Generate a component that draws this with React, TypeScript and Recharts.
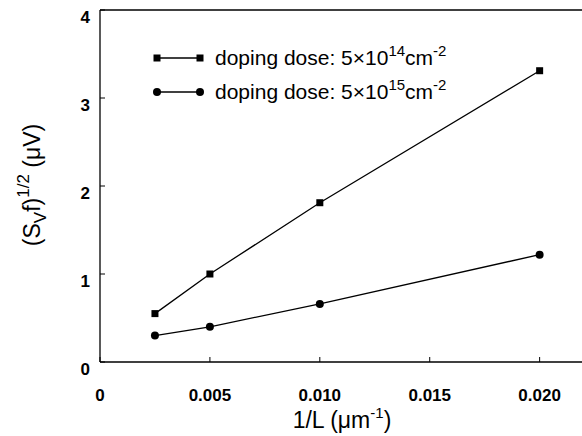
import React from 'react';
import { LineChart, Line, XAxis, YAxis, ReferenceLine, Legend, Label } from 'recharts';

const invLength = [0.0025, 0.005, 0.01, 0.02];
const dose14 = [0.55, 1.0, 1.81, 3.31];
const dose15 = [0.3, 0.4, 0.66, 1.22];
const xTicks = [0, 0.005, 0.01, 0.015, 0.02];
const yTicks = [0, 1, 2, 3, 4];

const data = invLength.map((x, i) => ({ x, a: dose14[i], b: dose15[i] }));

const FONT = '"Liberation Sans", Arial, Helvetica, sans-serif';

const SquareDot = (props: any) => {
  const { cx, cy, index } = props;
  if (cx == null || cy == null) return <g key={`s${index}`} />;
  return <rect key={`s${index}`} x={cx - 3.5} y={cy - 3.5} width={7} height={7} fill="#000" />;
};
const CircleDot = (props: any) => {
  const { cx, cy, index } = props;
  if (cx == null || cy == null) return <g key={`c${index}`} />;
  return <circle key={`c${index}`} cx={cx} cy={cy} r={4} fill="#000" />;
};

const sup: React.CSSProperties = { fontSize: 15, position: 'relative', top: -9 };

const LegendContent = () => (
  <div style={{ fontFamily: FONT, fontSize: 21, color: '#000' }}>
    {[
      { shape: 'square', exp: '14' },
      { shape: 'circle', exp: '15' },
    ].map((r) => (
      <div key={r.exp} style={{ display: 'flex', alignItems: 'center', height: 34, whiteSpace: 'nowrap' }}>
        <svg width={51} height={14} style={{ marginRight: 11, flex: 'none' }}>
          <line x1={4} y1={7} x2={47} y2={7} stroke="#000" strokeWidth={1.3} />
          {r.shape === 'square' ? (
            <>
              <rect x={0.5} y={3.5} width={7} height={7} fill="#000" />
              <rect x={43.5} y={3.5} width={7} height={7} fill="#000" />
            </>
          ) : (
            <>
              <circle cx={4} cy={7} r={4} fill="#000" />
              <circle cx={47} cy={7} r={4} fill="#000" />
            </>
          )}
        </svg>
        <span>
          doping dose: 5×10<span style={sup}>{r.exp}</span>cm<span style={sup}>-2</span>
        </span>
      </div>
    ))}
  </div>
);

const XTitle = () => (
  <text x={342} y={428} textAnchor="middle" fontFamily={FONT} fontSize={23} fill="#000">
    1/L (μm<tspan dy={-10} fontSize={15}>-1</tspan>
    <tspan dy={10}>)</tspan>
  </text>
);

const YTitle = () => (
  <text
    transform="translate(40,185) rotate(-90)"
    textAnchor="middle"
    fontFamily={FONT}
    fontSize={23}
    fill="#000"
  >
    (S<tspan dy={6} fontSize={17}>V</tspan>
    <tspan dy={-6}>f)</tspan>
    <tspan dy={-11} fontSize={17}>1/2</tspan>
    <tspan dy={11}> (μV)</tspan>
  </text>
);

const tickStyle = { fontFamily: FONT, fontSize: 17, fontWeight: 'bold', fill: '#000' } as any;

export default function App() {
  return (
    <div style={{ position: 'absolute', left: 0, top: 0, width: 582, height: 436, overflow: 'hidden', background: '#fff' }}>
      <LineChart width={600} height={436} data={data} margin={{ top: 10, right: 12, bottom: 0, left: 40 }}>
        <XAxis
          dataKey="x"
          type="number"
          domain={[0, 0.0222]}
          ticks={xTicks}
          tickFormatter={(v: number) => (v === 0 ? '0' : v.toFixed(3))}
          height={74}
          axisLine={{ stroke: '#000', strokeWidth: 1.3 }}
          tickLine={{ stroke: '#000', strokeWidth: 1 }}
          tickSize={-5}
          tickMargin={32}
          tick={tickStyle}
          allowDataOverflow
        >
          <Label content={() => <XTitle />} />
        </XAxis>
        <YAxis
          type="number"
          domain={[0, 4]}
          ticks={yTicks}
          width={60}
          axisLine={{ stroke: '#000', strokeWidth: 1.3 }}
          tickLine={{ stroke: '#000', strokeWidth: 1 }}
          tickSize={-5}
          tickMargin={15}
          tick={{ ...tickStyle, dy: 7 }}
        >
          <Label content={() => <YTitle />} />
        </YAxis>
        <ReferenceLine y={4} stroke="#000" strokeWidth={1.3} />
        <Legend
          layout="vertical"
          align="center"
          verticalAlign="middle"
          wrapperStyle={{ left: 153, top: 41, width: 380 }}
          content={() => <LegendContent />}
        />
        <Line
          dataKey="a"
          stroke="#000"
          strokeWidth={1.3}
          dot={SquareDot}
          activeDot={false}
          isAnimationActive={false}
        />
        <Line
          dataKey="b"
          stroke="#000"
          strokeWidth={1.3}
          dot={CircleDot}
          activeDot={false}
          isAnimationActive={false}
        />
      </LineChart>
    </div>
  );
}
